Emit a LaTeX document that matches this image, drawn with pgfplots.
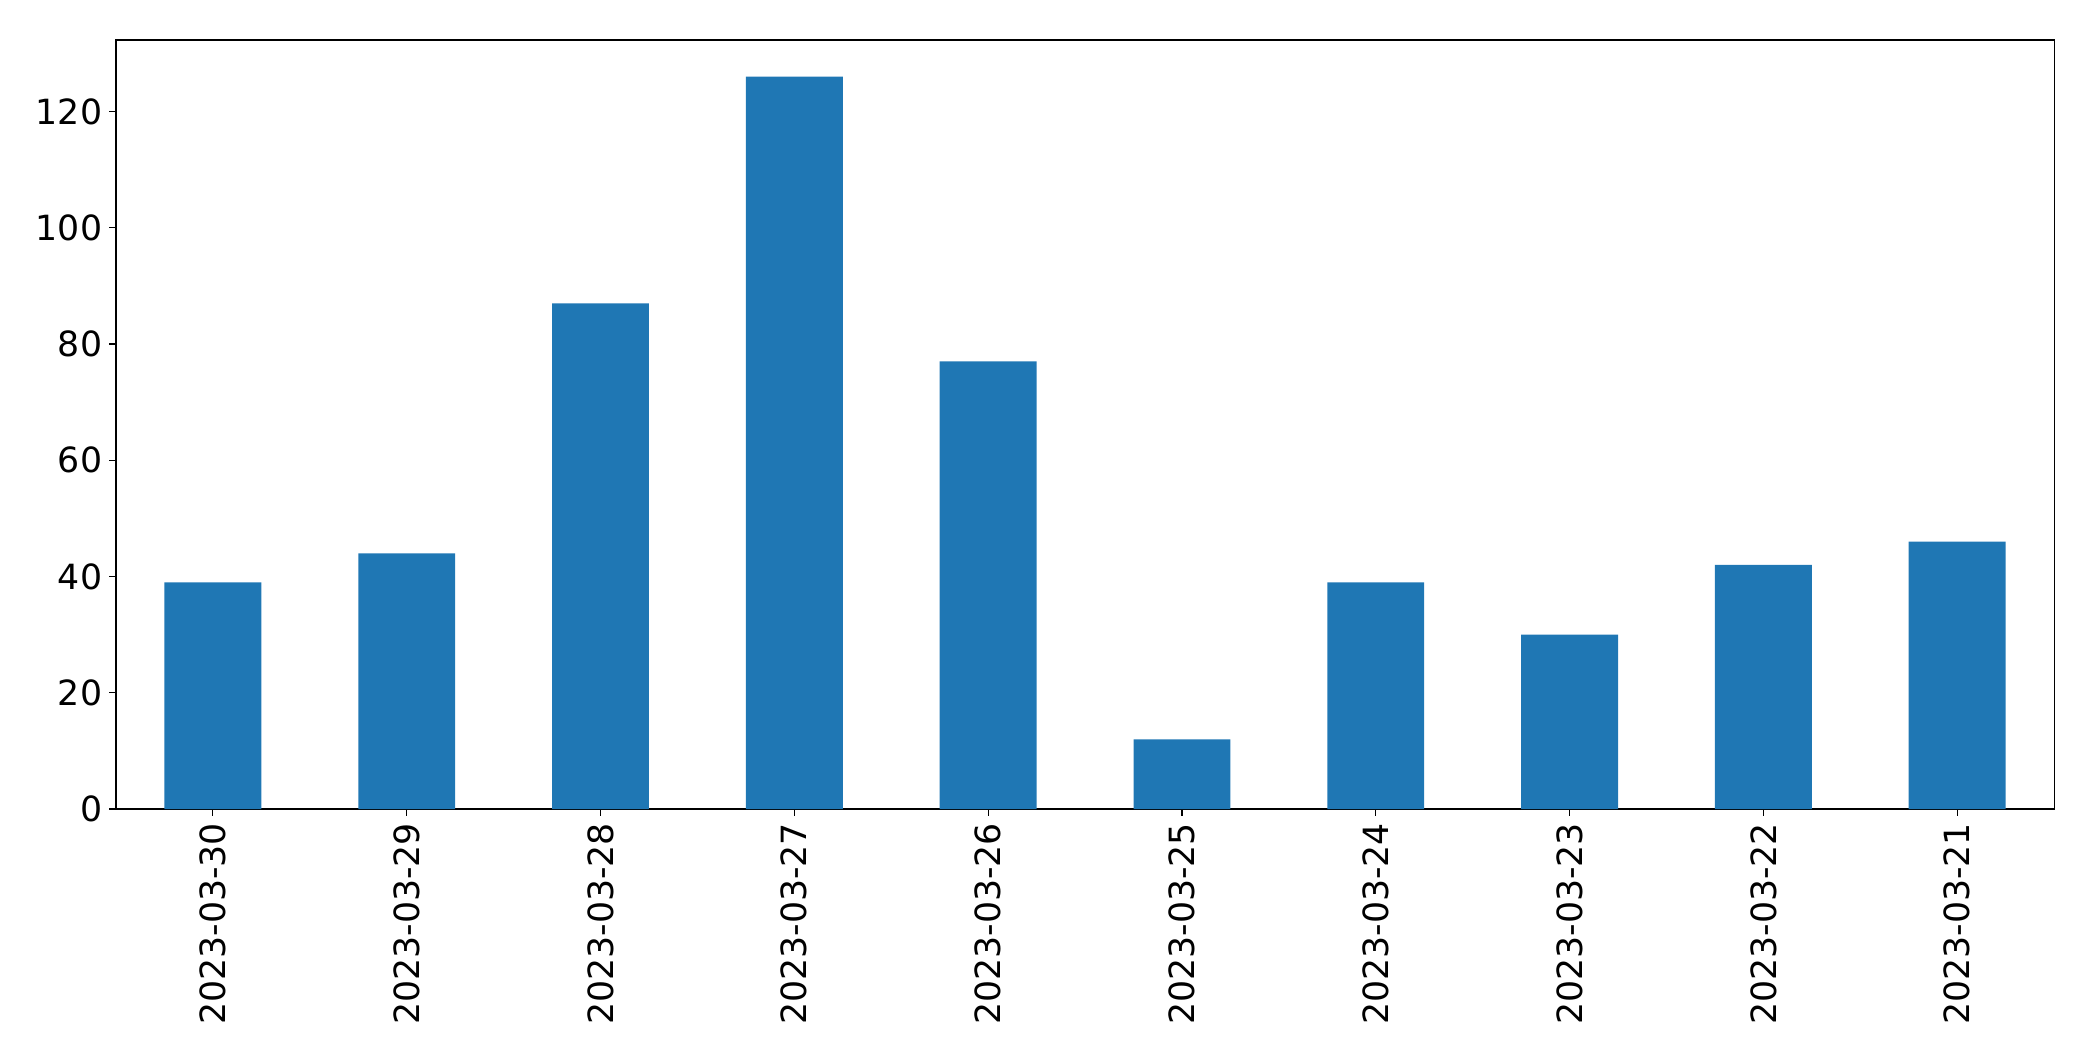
\documentclass[border=0pt]{standalone}
\usepackage{fontspec}
\setmainfont{DejaVu Sans}
\usepackage{pgfplots}
\pgfplotsset{compat=1.18}
\definecolor{mplblue}{HTML}{1F77B4}
\begin{document}
\begin{tikzpicture}
\path[use as bounding box] (-83.52pt,-181.44pt) rectangle (1423.44pt,582.48pt);
\begin{axis}[
  at={(0pt,0pt)}, anchor=south west,
  scale only axis,
  width=1395.36pt, height=553.68pt,
  xmin=-0.5, xmax=9.5, ymin=0, ymax=132.3,
  ybar, bar width=0.5,
  xtick={0,...,9},
  xticklabels={2023-03-30,2023-03-29,2023-03-28,2023-03-27,2023-03-26,2023-03-25,2023-03-24,2023-03-23,2023-03-22,2023-03-21},
  ytick={0,20,...,120},
  tick align=outside, xtick pos=bottom, ytick pos=left,
  major tick length=5pt,
  tick style={line width=0.8pt, black},
  axis line style={line width=0.8pt},
  /pgf/number format/assume math mode=true,
  ticklabel style={font=\fontsize{25}{30}\selectfont},
  xticklabel style={rotate=90, anchor=east, inner sep=0pt, outer sep=5pt},
  yticklabel style={inner sep=0pt, outer sep=5pt},
  minor tick num=0,
]
\addplot[fill=mplblue, draw=none] coordinates {
 (0,39) (1,44) (2,87) (3,126) (4,77) (5,12) (6,39) (7,30) (8,42) (9,46)
};
\end{axis}
\end{tikzpicture}
\end{document}
